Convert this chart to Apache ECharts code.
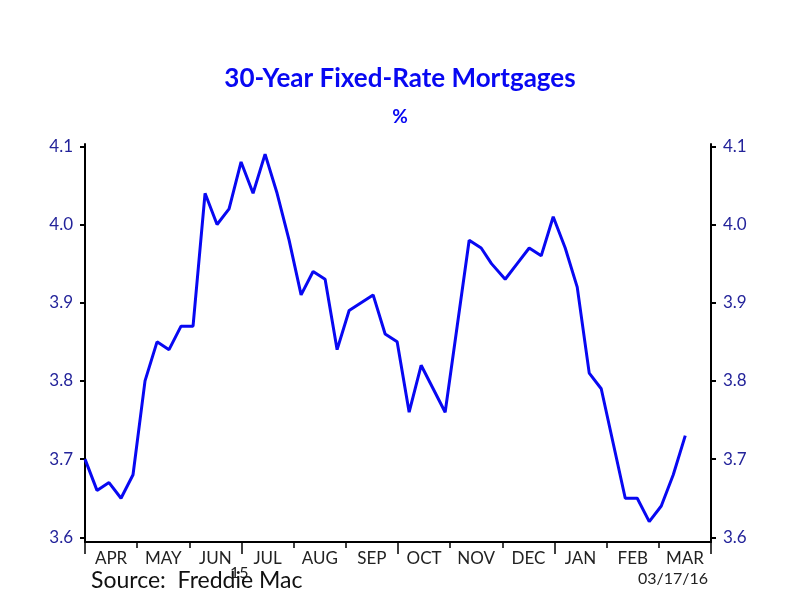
<!DOCTYPE html>
<html>
<head>
<meta charset="utf-8">
<title>30-Year Fixed-Rate Mortgages</title>
<script src="https://cdn.jsdelivr.net/npm/echarts@6/dist/echarts.min.js"></script>
<style>
  html, body { margin: 0; padding: 0; background: #fff; }
  #chart { width: 800px; height: 600px; }
</style>
</head>
<body>
<div id="chart"></div>
<script>
// weekly survey dates (Freddie Mac PMMS)
const weeks = [
  '2015-04-02', '2015-04-09', '2015-04-16', '2015-04-23', '2015-04-30',
  '2015-05-07', '2015-05-14', '2015-05-21', '2015-05-28',
  '2015-06-04', '2015-06-11', '2015-06-18', '2015-06-25',
  '2015-07-02', '2015-07-09', '2015-07-16', '2015-07-23', '2015-07-30',
  '2015-08-06', '2015-08-13', '2015-08-20', '2015-08-27',
  '2015-09-03', '2015-09-10', '2015-09-17', '2015-09-24',
  '2015-10-01', '2015-10-08', '2015-10-15', '2015-10-22', '2015-10-29',
  '2015-11-05', '2015-11-12', '2015-11-19', '2015-11-25',
  '2015-12-03', '2015-12-10', '2015-12-17', '2015-12-24', '2015-12-31',
  '2016-01-07', '2016-01-14', '2016-01-21', '2016-01-28',
  '2016-02-04', '2016-02-11', '2016-02-18', '2016-02-25',
  '2016-03-03', '2016-03-10', '2016-03-17'
];
const rates = [
  3.70, 3.66, 3.67, 3.65, 3.68,
  3.80, 3.85, 3.84, 3.87,
  3.87, 4.04, 4.00, 4.02,
  4.08, 4.04, 4.09, 4.04, 3.98,
  3.91, 3.94, 3.93, 3.84,
  3.89, 3.90, 3.91, 3.86,
  3.85, 3.76, 3.82, 3.79, 3.76,
  3.87, 3.98, 3.97, 3.95,
  3.93, 3.95, 3.97, 3.96, 4.01,
  3.97, 3.92, 3.81, 3.79,
  3.72, 3.65, 3.65, 3.62,
  3.64, 3.68, 3.73
];
const months = ['APR', 'MAY', 'JUN', 'JUL', 'AUG', 'SEP', 'OCT', 'NOV', 'DEC', 'JAN', 'FEB', 'MAR'];
const quarters = ['Q2', 'Q3', 'Q4', 'Q1'];
const yTicks = [3.6, 3.7, 3.8, 3.9, 4.0, 4.1];

const blue = '#0808f2';
const labelBlue = '#23239a';
const font = 'Lato';

const chart = echarts.init(document.getElementById('chart'));

const yAxisBase = {
  type: 'value',
  min: 3.594,
  max: 4.103,
  splitLine: { show: false },
  axisLine: { show: true, lineStyle: { color: '#000', width: 2 } },
  axisTick: { show: true, length: 5, lineStyle: { color: '#000', width: 2 }, customValues: yTicks },
  axisLabel: {
    color: labelBlue, fontFamily: font, fontSize: 17, margin: 12,
    customValues: yTicks,
    formatter: v => v.toFixed(1)
  }
};

chart.setOption({
  animation: false,
  backgroundColor: '#fff',
  title: [{
    text: '30-Year Fixed-Rate Mortgages',
    left: 'center', top: 61,
    textStyle: { color: blue, fontFamily: font, fontWeight: 'bold', fontSize: 26 }
  }, {
    text: '%',
    left: 'center', top: 102,
    textStyle: { color: blue, fontFamily: font, fontWeight: 'bold', fontSize: 19 }
  }],
  grid: { left: 85, right: 89, top: 144, bottom: 58 },
  xAxis: [{
    // hidden time axis used to place the weekly data
    type: 'time',
    min: '2015-04-02',
    max: '2016-04-01',
    show: false
  }, {
    type: 'category',
    data: months,
    position: 'bottom',
    boundaryGap: true,
    axisLine: { show: true, lineStyle: { color: '#000', width: 2 } },
    axisTick: { show: true, interval: 0, length: 6, lineStyle: { color: '#000', width: 1.5 } },
    axisLabel: { interval: 0, color: '#222', fontFamily: font, fontSize: 17, margin: 8 }
  }, {
    type: 'category',
    data: quarters,
    position: 'bottom',
    boundaryGap: true,
    axisLine: { show: false },
    axisTick: { show: true, interval: 0, length: 12, lineStyle: { color: '#000', width: 1.5 } },
    axisLabel: { show: false }
  }],
  yAxis: [
    Object.assign({}, yAxisBase, { position: 'left' }),
    Object.assign({}, yAxisBase, { position: 'right' })
  ],
  series: [{
    type: 'line',
    xAxisIndex: 0,
    yAxisIndex: 0,
    data: weeks.map((d, i) => [d, rates[i]]),
    showSymbol: false,
    lineStyle: { color: blue, width: 3 },
    itemStyle: { color: blue }
  }],
  graphic: [{
    type: 'text', left: 230, top: 565,
    style: { text: '15', fill: '#222', font: '16px Lato' }
  }, {
    type: 'text', left: 91, top: 569,
    style: { text: 'Source:  Freddie Mac', fill: '#111', font: '23px Lato' }
  }, {
    type: 'text', left: 638, top: 571,
    style: { text: '03/17/16', fill: '#222', font: '16px Lato' }
  }]
});
</script>
</body>
</html>
